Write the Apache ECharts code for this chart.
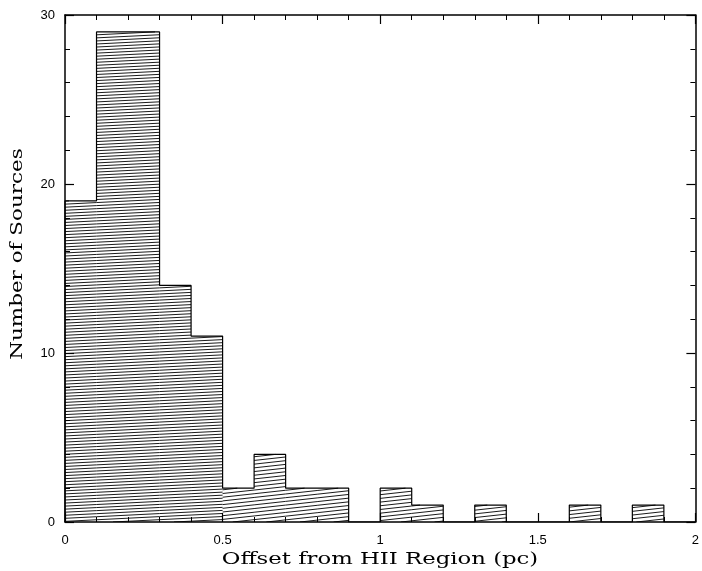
<!DOCTYPE html>
<html><head><meta charset="utf-8">
<script src="https://cdn.jsdelivr.net/npm/echarts@6/dist/echarts.min.js"></script>
<style>html,body{margin:0;padding:0;background:#fff}#c{width:702px;height:571px}</style>
</head><body><div id="c"></div>
<script>
// Data
var binStarts = [0,0.1,0.2,0.3,0.4,0.5,0.6,0.7,0.8,0.9,1.0,1.1,1.2,1.3,1.4,1.5,1.6,1.7,1.8,1.9];
var counts    = [19,29,29,14,11,2,4,2,2,0,2,1,0,1,0,0,1,0,1,0];
var binWidth = 0.1;
var xTicks = [0,0.5,1,1.5,2];
var yTicks = [0,10,20,30];
var xTitle = 'Offset from HII Region (pc)';
var yTitle = 'Number of Sources';

var chart = echarts.init(document.getElementById('c'));

var stepData = [[0,0]];
for (var i=0;i<binStarts.length;i++) stepData.push([binStarts[i], counts[i]]);
stepData.push([binStarts[binStarts.length-1]+binWidth, 0]);

var hatchData = [];
for (var j=0;j<binStarts.length;j++) if (counts[j]>0) hatchData.push([binStarts[j], binStarts[j]+binWidth, counts[j]]);

function renderHatch(params, api){
  var p0 = api.coord([api.value(0), api.value(2)]);
  var p1 = api.coord([api.value(1), 0]);
  var x1 = p0[0], x2 = p1[0], yT = p0[1], yB = p1[1];
  var tall = api.value(2) >= 10;
  var d = tall ? 3.05 : 3.7;
  var s = tall ? 0.05 : 0.11;
  var kids = [];
  var cMin = yT + s*x1, cMax = yB + s*x2;
  for (var k=Math.ceil(cMin/d); k*d<=cMax; k++){
    var c = k*d;
    var xa = Math.max(x1, (c-yB)/s), xb = Math.min(x2, (c-yT)/s);
    if (xb - xa > 0.3){
      kids.push({type:'line', shape:{x1:xa,y1:c-s*xa,x2:xb,y2:c-s*xb},
        style:{stroke:'#000', lineWidth:0.9}});
    }
  }
  return {type:'group', children:kids};
}

function axisCommon(){
  return {
    axisLine:{show:true, onZero:false, lineStyle:{color:'#000', width:1.5}},
    axisTick:{show:true, inside:true, length:9, lineStyle:{color:'#000', width:1.2}},
    minorTick:{show:true, splitNumber:5, length:5, lineStyle:{color:'#000', width:1}},
    splitLine:{show:false}
  };
}

chart.setOption({
  animation:false,
  backgroundColor:'#fff',
  grid:{left:65, right:3, top:15, bottom:49},
  xAxis:[
    Object.assign({type:'value', min:xTicks[0], max:xTicks[xTicks.length-1], interval:0.5, position:'bottom',
      axisLabel:{show:true, margin:12, fontFamily:'Liberation Sans', fontSize:13, color:'#000',
        formatter:function(v){return xTicks.indexOf(v)>=0 ? String(v) : '';}}}, axisCommon()),
    Object.assign({type:'value', min:0, max:2, interval:0.5, position:'top', axisLabel:{show:false}}, axisCommon())
  ],
  yAxis:[
    Object.assign({type:'value', min:yTicks[0], max:yTicks[yTicks.length-1], interval:10, position:'left',
      axisLabel:{show:true, margin:10, fontFamily:'Liberation Sans', fontSize:13, color:'#000'}}, axisCommon()),
    Object.assign({type:'value', min:0, max:30, interval:10, position:'right', axisLabel:{show:false}}, axisCommon())
  ],
  series:[
    {type:'custom', renderItem:renderHatch, data:hatchData, encode:{x:[0,1], y:2}, silent:true, clip:true},
    {type:'line', step:'end', data:stepData, symbol:'none', lineStyle:{color:'#000', width:1.2}, silent:true, z:5}
  ],
  graphic:[
    {type:'text', x:380, y:560, scaleX:1.38, style:{text:xTitle, font:'16.5px "DejaVu Serif"', fill:'#000', textAlign:'center', textVerticalAlign:'middle'}},
    {type:'text', x:18, y:254, rotation:Math.PI/2, scaleX:1.3, style:{text:yTitle, font:'16.5px "DejaVu Serif"', fill:'#000', textAlign:'center', textVerticalAlign:'middle'}}
  ]
});
</script></body></html>
